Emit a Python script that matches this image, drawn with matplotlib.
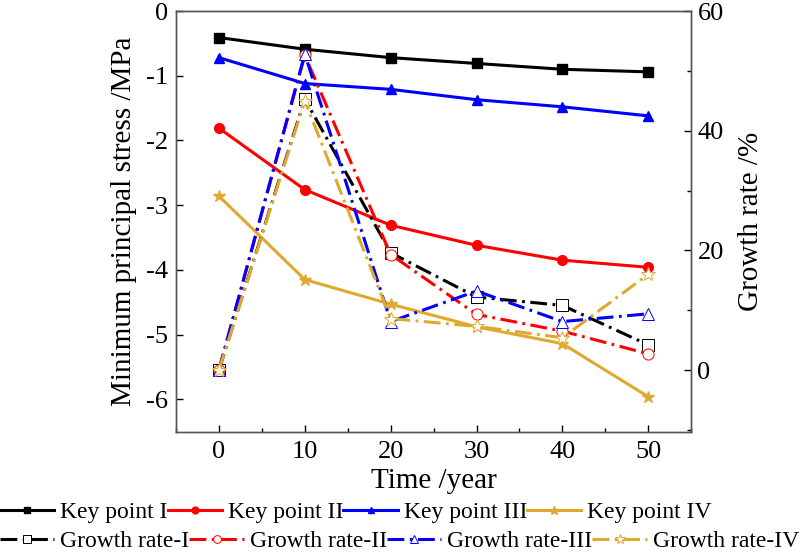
import matplotlib
matplotlib.use('Agg')
from matplotlib import pyplot as plt
from matplotlib.ticker import MultipleLocator

plt.rcParams['font.family'] = ['Liberation Serif', 'DejaVu Serif']
plt.rcParams['axes.unicode_minus'] = False

years = [0, 10, 20, 30, 40, 50]

# minimum principal stress (MPa)
key_1 = [-0.41, -0.59, -0.72, -0.81, -0.90, -0.94]
key_2 = [-1.81, -2.76, -3.31, -3.62, -3.85, -3.96]
key_3 = [-0.72, -1.12, -1.21, -1.37, -1.48, -1.62]
key_4 = [-2.86, -4.15, -4.53, -4.88, -5.14, -5.96]

# growth rate (%)
growth_1 = [0, 45.3, 19.6, 12.2, 10.8, 4.2]
growth_2 = [0, 52.6, 19.3, 9.3, 6.5, 2.7]
growth_3 = [0, 52.8, 8.1, 13.2, 8.1, 9.4]
growth_4 = [0, 45.0, 8.6, 7.3, 5.4, 16.0]

key_labels = ['Key point I', 'Key point II', 'Key point III', 'Key point IV']
growth_labels = ['Growth rate-I', 'Growth rate-II', 'Growth rate-III', 'Growth rate-IV']
colors = ['black', '#FF0000', '#0000FF', '#DFA92E']
markers = ['s', 'o', '^', '*']

fig = plt.figure(figsize=(8, 5.52), dpi=100)
ax = fig.add_axes([0.22, 0.218, 0.644, 0.762])
ax2 = ax.twinx()

key_handles = []
for vals, c, m, lab in zip([key_1, key_2, key_3, key_4], colors, markers, key_labels):
    h, = ax.plot(years, vals, color=c, marker=m, lw=2.2, ms=7 if m != '*' else 9,
                 label=lab)
    key_handles.append(h)

growth_handles = []
for vals, c, m, lab in zip([growth_1, growth_2, growth_3, growth_4], colors,
                           markers, growth_labels):
    h, = ax2.plot(years, vals, color=c, marker=m, lw=2.2, ms=8 if m != '*' else 10,
                  mfc='white', mec=c, mew=0.7, dashes=[5.5, 1.8, 0.9, 1.8],
                  label=lab)
    growth_handles.append(h)

ax.set_xlim(-5, 55)
ax.set_ylim(-6.5, 0)
ax2.set_ylim(-10.3, 60)

ax.xaxis.set_major_locator(MultipleLocator(10))
ax.xaxis.set_minor_locator(MultipleLocator(5))
ax.yaxis.set_major_locator(MultipleLocator(1))
ax2.yaxis.set_major_locator(MultipleLocator(20))
ax2.yaxis.set_minor_locator(MultipleLocator(10))

for a in (ax, ax2):
    a.tick_params(which='both', direction='in', labelsize=19, width=1)
    a.tick_params(which='major', length=5)
    a.tick_params(which='minor', length=3)
    for s in a.spines.values():
        s.set_color('#555555')
        s.set_linewidth(1)
ax.tick_params(axis='y', pad=6)
ax.tick_params(axis='x', pad=7)
ax2.tick_params(axis='y', pad=4.5)

ax.set_xlabel('Time /year', fontsize=21, labelpad=3)
ax.set_ylabel('Minimum principal stress /MPa', fontsize=21, labelpad=6)
ax2.set_ylabel('Growth rate /%', fontsize=21, labelpad=10)

leg_kw = dict(ncol=4, frameon=False, fontsize=17, handlelength=2.3,
              handletextpad=0.25, columnspacing=0.0, borderaxespad=0,
              borderpad=0, numpoints=1, markerscale=0.7)
fig.legend(handles=key_handles, loc='center left',
           bbox_to_anchor=(0.0, 1 - 512 / 552), **leg_kw)
fig.legend(handles=growth_handles, loc='center left',
           bbox_to_anchor=(0.0, 1 - 541 / 552), **leg_kw)

fig.savefig('out.png', dpi=100)
